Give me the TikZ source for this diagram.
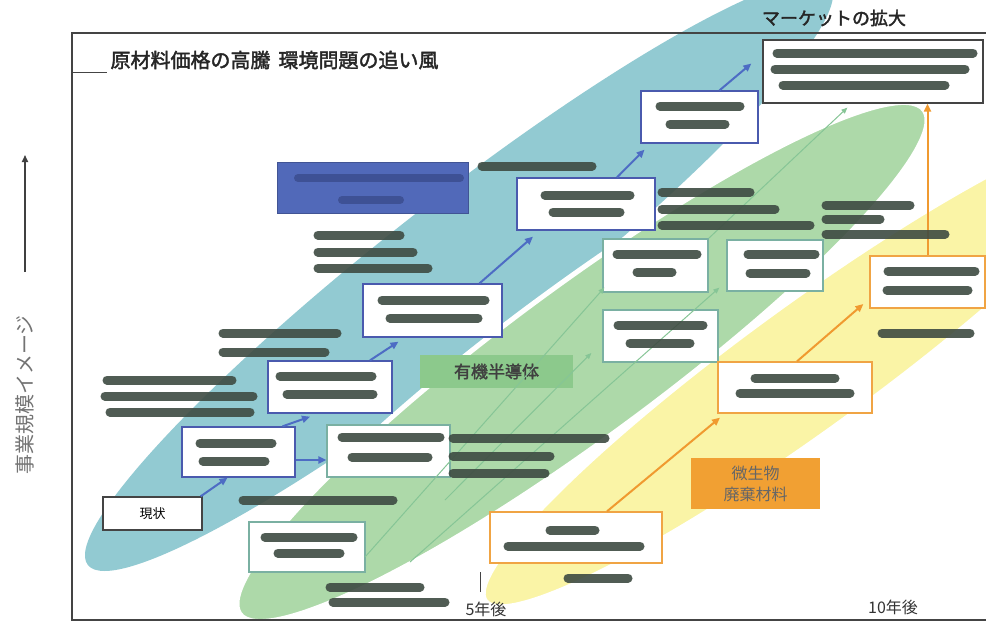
\documentclass[tikz,border=0pt]{standalone}
\usepackage{fontspec}
\newfontfamily\jp{Noto Sans CJK JP}
\newfontfamily\jpb{Noto Sans CJK JP}[FakeBold=2]
\usetikzlibrary{arrows.meta}
\definecolor{tealc}{HTML}{92CAD2}
\definecolor{greenc}{HTML}{ADD9A9}
\definecolor{yellowc}{HTML}{FAF4A6}
\definecolor{bluebd}{HTML}{4A5AAE}
\definecolor{greenbd}{HTML}{7AB0A2}
\definecolor{orangebd}{HTML}{F0A444}
\definecolor{bluelab}{HTML}{5169B9}
\definecolor{greenlab}{HTML}{8CC98C}
\definecolor{orangelab}{HTML}{F1A033}
\definecolor{frame}{HTML}{444444}
\definecolor{redc}{HTML}{3E4B42}
\definecolor{blueredc}{HTML}{3A4C8C}
\definecolor{garrow}{HTML}{86C596}
\definecolor{barrow}{HTML}{4D6CC4}
\definecolor{oarrow}{HTML}{F09A30}
\tikzset{
  box/.style={draw, fill=white, line width=1.3pt, inner sep=0pt, anchor=center},
  bbox/.style={box, draw=bluebd},
  gbox/.style={box, draw=greenbd},
  obox/.style={box, draw=orangebd},
  kbox/.style={box, draw=frame},
  redact/.style={draw=redc, line width=9pt, line cap=round, opacity=0.9},
  bredact/.style={draw=blueredc, line width=8pt, line cap=round, opacity=0.8},
  barr/.style={draw=barrow, line width=2pt, -{Triangle[length=8pt,width=7pt]}},
  oarr/.style={draw=oarrow, line width=2pt, -{Triangle[length=8pt,width=7pt]}},
  garr/.style={draw=garrow, line width=1pt, -{Triangle[length=6pt,width=5pt]}},
  framel/.style={draw=frame, line width=1.4pt}
}
\begin{document}
\begin{tikzpicture}[x=1pt,y=-1pt]
\useasboundingbox (0,0) rectangle (986,624);
\fill[white] (0,0) rectangle (986,624);
\begin{scope}
\clip (0,0) rectangle (986,624);
\fill[tealc, rotate around={38:(459,275)}] (459,275) ellipse [x radius=471pt, y radius=75pt];
\filldraw[fill=greenc, draw=white, line width=5pt, rotate around={36.4:(582,362)}] (582,362) ellipse [x radius=425pt, y radius=76pt];
\filldraw[fill=yellowc, draw=white, line width=5pt, rotate around={36:(809,366)}] (809,366) ellipse [x radius=400pt, y radius=64pt];
\end{scope}

% frame
\draw[framel] (986,33) -- (72,33) -- (72,620) -- (986,620);
\draw[framel, line width=1pt] (72,72) -- (107,72);
\draw[draw=frame, line width=0.8pt] (480,572) -- (480,592);

% texts
\node[font=\jpb\fontsize{20}{22}\selectfont, text=black!85, anchor=west] (title) at (107,60) {原材料価格の高騰\hspace{0.4em}環境問題の追い風};
\node[font=\jpb\fontsize{18}{20}\selectfont, text=black!85] (market) at (834,18) {マーケットの拡大};
\node[font=\jp\fontsize{20}{22}\selectfont, text=black!55, rotate=90] (axis) at (25,395) {事業規模イメージ};
\coordinate (axb) at (25,272);
\coordinate (axt) at (25,155);
\draw[draw=black!75, line width=1.6pt, -{Triangle[length=7pt,width=6pt]}] (axb) -- (axt);
\node[font=\jp\fontsize{16}{18}\selectfont, text=black!80] (y5) at (486,609) {5年後};
\node[font=\jp\fontsize{16}{18}\selectfont, text=black!80] (y10) at (893,607) {10年後};

% start points of the thin green arrows
\coordinate (gs1) at (365,557);
\coordinate (gs2) at (410,562);
\coordinate (gs3) at (445,500);

% boxes
\node[kbox, minimum width=99pt, minimum height=33pt, font=\jp\fontsize{13}{15}\selectfont] (b1) at (152.5,513.5) {現状};
\node[bbox, minimum width=113pt, minimum height=50pt] (b2) at (238.5,452) {};
\node[bbox, minimum width=124pt, minimum height=52pt] (b3) at (330,387) {};
\node[bbox, minimum width=139pt, minimum height=53pt] (b4) at (432.5,310.5) {};
\node[bbox, minimum width=138pt, minimum height=52pt] (b5) at (586,204) {};
\node[bbox, minimum width=117pt, minimum height=52pt] (b6) at (699.5,117) {};
\node[kbox, minimum width=220pt, minimum height=63pt] (b7) at (873,71.5) {};
\node[draw=bluelab!80!black, line width=0.8pt, fill=bluelab, minimum width=191pt, minimum height=51pt, inner sep=0pt] (bl) at (372.5,187.5) {};
\node[gbox, minimum width=123pt, minimum height=52pt] (g1) at (388.5,451) {};
\node[gbox, minimum width=116pt, minimum height=50pt] (g2) at (307,547) {};
\node[gbox, minimum width=105pt, minimum height=53pt] (g3) at (655.5,265.5) {};
\node[gbox, minimum width=96pt, minimum height=51pt] (g4) at (775,265.5) {};
\node[gbox, minimum width=115pt, minimum height=52pt] (g5) at (660.5,336) {};
\node[fill=greenlab, minimum width=153pt, minimum height=33pt, inner sep=0pt, font=\jpb\fontsize{17}{19}\selectfont, text=black!75] (gl) at (496.5,371.5) {有機半導体};
\node[obox, minimum width=172pt, minimum height=51pt] (o1) at (576,537.5) {};
\node[obox, minimum width=154pt, minimum height=51pt] (o2) at (795,387.5) {};
\node[obox, minimum width=115pt, minimum height=52pt] (o3) at (927.5,282) {};
\node[fill=orangelab, minimum width=129pt, minimum height=51pt, inner sep=0pt, align=center, font=\jp\fontsize{16}{21}\selectfont, text=black!60] (ol) at (755.5,483.5) {微生物\\廃棄材料};

% green thin arrows
\draw[garr] (gs1) -- ([xshift=2pt,yshift=5pt]g3.south west);
\draw[garr] (gs2) -- ([xshift=-7pt,yshift=4pt]g4.south west);
\draw[garr] (gs3) -- ([xshift=-11pt,yshift=-17pt]g5.west);
\draw[garr] (g3.north east) -- ([xshift=85pt,yshift=-4pt]b7.south west);

% blue arrows
\draw[barr] ([xshift=-2pt]b1.north east) -- ([xshift=-11pt]b2.south);
\draw[barr] ([xshift=44pt]b2.north) -- ([xshift=-20pt,yshift=-3pt]b3.south);
\draw[barr] ([yshift=-8pt]b2.east) -- ([yshift=-9pt]g1.west);
\draw[barr] ([xshift=40pt]b3.north) -- ([xshift=-34pt,yshift=-4pt]b4.south);
\draw[barr] ([xshift=47pt]b4.north) -- ([xshift=-53pt,yshift=-6pt]b5.south);
\draw[barr] ([xshift=31pt]b5.north) -- ([xshift=-55pt,yshift=-6pt]b6.south);
\draw[barr] ([xshift=20pt]b6.north) -- ([xshift=-11pt,yshift=8pt]b7.west);

% orange arrows
\draw[oarr] ([xshift=31pt]o1.north) -- ([xshift=-75pt,yshift=-4pt]o2.south);
\draw[oarr] ([xshift=2pt]o2.north) -- ([xshift=-6pt,yshift=-22pt]o3.west);
\draw[oarr] (o3.north) -- (o3.north |- b7.south);

% redacted (illegible) text
\foreach \a/\b/\c in {107/232/380,105/253/396,110/250/412,
  223/337/333,223/325/352,
  318/400/235,318/413/252,318/428/268,
  482/592/166,
  662/750/192,662/775/209,662/810/225,
  826/910/205,826/880/219,826/945/234,
  453/605/438,453/550/456,453/545/473,
  243/393/500,
  330/420/587,333/445/602,
  882/970/333,
  568/628/578,
  200/272/443,203/265/461,
  280/372/376,287/373/394,
  382/485/300,390/478/318,
  545/630/195,553/620/212,
  660/740/106,670/725/124,
  777/973/53,775/965/69,783/945/85,
  342/440/437,352/428/457,
  265/353/537,278/340/553,
  617/697/254,637/672/272,
  748/815/254,750/806/273,
  618/703/325,630/690/343,
  550/595/530,508/640/546,
  755/835/378,740/850/393,
  888/975/271,887/968/290}
  \draw[redact] (\a,\c) -- (\b,\c);
\draw[bredact] (298,178) -- (460,178);
\draw[bredact] (342,200) -- (400,200);
\end{tikzpicture}
\end{document}
